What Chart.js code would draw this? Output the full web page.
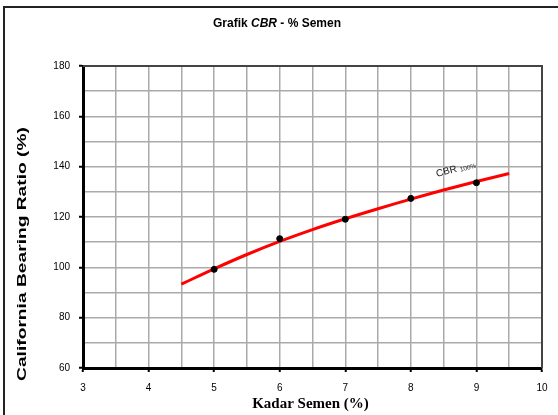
<!DOCTYPE html>
<html>
<head>
<meta charset="utf-8">
<script src="https://cdn.jsdelivr.net/npm/chart.js@4.4.1/dist/chart.umd.min.js"></script>
<style>
  html, body { margin: 0; padding: 0; background: #fff; }
  canvas { display: block; }
</style>
</head>
<body>
<canvas id="c" width="558" height="415"></canvas>
<script>
// ---- data ----
const cementPct = [5, 6, 7, 8, 9];
const cbrValues = [99.2, 111.4, 119.1, 127.4, 133.6];
const trendX = [4.5, 5, 5.5, 6, 6.5, 7, 7.5, 8, 8.5, 9, 9.5];
const trendY = [93.3, 99.4, 105.1, 110.3, 115.0, 119.3, 123.3, 127.1, 130.7, 134.1, 137.3];
const xTickLabels = [3, 4, 5, 6, 7, 8, 9, 10];
const yTickLabels = [60, 80, 100, 120, 140, 160, 180];
const chartTitle = ['Grafik ', 'CBR', ' - % Semen'];
const xTitle = 'Kadar Semen (%)';
const yTitle = 'California Bearing Ratio (%)';
const curveLabel = ['CBR', '100%'];
const curveLabelAt = [8.4, 135.9];

const SANS = '"Liberation Sans", Arial, sans-serif';
const SERIF = '"Liberation Serif", "Times New Roman", serif';

const decor = {
  id: 'decor',
  beforeDraw(chart) {
    const ctx = chart.ctx;
    ctx.save();
    ctx.fillStyle = '#fff';
    ctx.fillRect(0, 0, chart.width, chart.height);
    ctx.strokeStyle = '#222';
    ctx.lineWidth = 2;
    ctx.strokeRect(4, 7, 700, 600);
    ctx.restore();
  },
  afterDraw(chart) {
    const ctx = chart.ctx;
    const a = chart.chartArea;
    const xs = chart.scales.x, ys = chart.scales.y;
    ctx.save();
    // top & right plot frame
    ctx.strokeStyle = '#444';
    ctx.lineWidth = 2;
    ctx.beginPath();
    ctx.moveTo(a.left, a.top);
    ctx.lineTo(a.right, a.top);
    ctx.lineTo(a.right, a.bottom);
    ctx.stroke();

    // chart title with italic part
    ctx.fillStyle = '#000';
    ctx.textBaseline = 'middle';
    const fonts = ['bold 12px ' + SANS, 'italic bold 12px ' + SANS, 'bold 12px ' + SANS];
    let total = 0;
    const widths = chartTitle.map((t, i) => { ctx.font = fonts[i]; const w = ctx.measureText(t).width; total += w; return w; });
    let x = 277 - total / 2;
    chartTitle.forEach((t, i) => { ctx.font = fonts[i]; ctx.textAlign = 'left'; ctx.fillText(t, x, 24); x += widths[i]; });

    // x title
    ctx.font = 'bold 15px ' + SERIF;
    ctx.textAlign = 'center';
    ctx.fillText(xTitle, (a.left + a.right) / 2 - 2, 404);

    // y title (stretched along its length)
    ctx.save();
    ctx.translate(23, 254);
    ctx.rotate(-Math.PI / 2);
    ctx.scale(1.6, 1);
    ctx.font = 'bold 12px ' + SANS;
    ctx.textAlign = 'center';
    ctx.fillText(yTitle, 0, 0);
    ctx.restore();

    // curve label
    ctx.save();
    ctx.translate(xs.getPixelForValue(curveLabelAt[0]), ys.getPixelForValue(curveLabelAt[1]));
    ctx.rotate(-15 * Math.PI / 180);
    ctx.fillStyle = '#222';
    ctx.textAlign = 'left';
    ctx.textBaseline = 'alphabetic';
    ctx.font = '10px ' + SANS;
    ctx.fillText(curveLabel[0], 0, 0);
    const w0 = ctx.measureText(curveLabel[0] + ' ').width;
    ctx.font = '6.5px ' + SANS;
    ctx.fillText(curveLabel[1], w0, 1);
    ctx.restore();

    ctx.restore();
  }
};

new Chart(document.getElementById('c'), {
  type: 'scatter',
  data: {
    datasets: [
      {
        label: 'CBR',
        data: cementPct.map((v, i) => ({ x: v, y: cbrValues[i] })),
        backgroundColor: '#000',
        borderColor: '#000',
        pointRadius: 3,
        pointHoverRadius: 3,
        showLine: false
      },
      {
        label: 'Trend',
        data: trendX.map((v, i) => ({ x: v, y: trendY[i] })),
        borderColor: '#ff0000',
        borderWidth: 3,
        pointRadius: 0,
        showLine: true,
        tension: 0.4
      }
    ]
  },
  options: {
    responsive: false,
    animation: false,
    devicePixelRatio: 1,
    layout: { padding: { left: 0, top: 66, right: 16, bottom: 0 } },
    plugins: { legend: { display: false }, title: { display: false }, tooltip: { enabled: false } },
    scales: {
      x: {
        type: 'linear',
        min: 3, max: 10,
        afterFit(s) { s.height = 47; },
        afterBuildTicks(s) {
          const t = [];
          for (let v = 3; v <= 10.001; v += 0.5) t.push({ value: v });
          s.ticks = t;
        },
        ticks: {
          autoSkip: false,
          maxRotation: 0,
          padding: 10,
          color: '#000',
          font: { family: SANS, size: 10 },
          callback: (v) => xTickLabels.includes(v) ? String(v) : ''
        },
        grid: {
          color: '#aaaaaa',
          lineWidth: 1.5,
          tickLength: 4,
          tickWidth: 2,
          tickColor: (c) => (c.tick && xTickLabels.includes(c.tick.value)) ? '#000' : 'rgba(0,0,0,0)'
        },
        border: { color: '#000', width: 3 }
      },
      y: {
        type: 'linear',
        min: 60, max: 180,
        afterFit(s) { s.width = 83; },
        afterBuildTicks(s) {
          const t = [];
          for (let v = 60; v <= 180; v += 10) t.push({ value: v });
          s.ticks = t;
        },
        ticks: {
          autoSkip: false,
          padding: 9,
          color: '#000',
          font: { family: SANS, size: 10 },
          callback: (v) => yTickLabels.includes(v) ? String(v) : ''
        },
        grid: {
          color: '#aaaaaa',
          lineWidth: 1.5,
          tickLength: 4,
          tickWidth: 2,
          tickColor: (c) => (c.tick && yTickLabels.includes(c.tick.value)) ? '#000' : 'rgba(0,0,0,0)'
        },
        border: { color: '#000', width: 3 }
      }
    }
  },
  plugins: [decor]
});
</script>
</body>
</html>
